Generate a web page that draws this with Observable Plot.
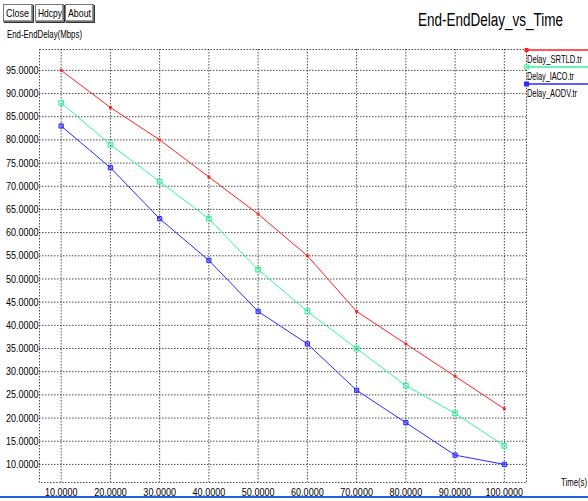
<!DOCTYPE html>
<html>
<head>
<meta charset="utf-8">
<script src="https://cdn.jsdelivr.net/npm/d3@7"></script>
<script src="https://cdn.jsdelivr.net/npm/@observablehq/plot@0.6"></script>
<style>
  html, body { margin:0; padding:0; background:#fff; width:588px; height:501px; overflow:hidden; }
  body { position:relative; font-family:"Liberation Sans",Arial,sans-serif; color:#000; }
  #chart { position:absolute; left:0; top:0; }
  .btn { position:absolute; top:4px; height:16px; border:1px solid #777; box-shadow: inset -1px -1px 0 #999, inset 1px 1px 0 #fff, 1px 1px 0 #333; background:#fff; overflow:hidden; }
  .btn span { position:absolute; left:2px; top:2px; font-size:11px; line-height:12px; white-space:nowrap; transform-origin:0 0; }
  .lbl { position:absolute; font-size:11px; line-height:12px; white-space:nowrap; transform-origin:0 0; }
  #title { position:absolute; left:418px; top:10px; font-size:18px; line-height:20px; white-space:nowrap; transform-origin:0 0; }
  #legsvg { position:absolute; left:520px; top:40px; width:68px; height:60px; overflow:visible; }
  #bottomline { position:absolute; left:0; top:496px; width:588px; height:2px; background:#1f62e6; }
</style>
</head>
<body>
<div id="chart"></div>
<div class="btn" style="left:3px;width:28px;"><span data-w="23">Close</span></div>
<div class="btn" style="left:35px;width:27px;"><span data-w="24">Hdcpy</span></div>
<div class="btn" style="left:65px;width:27px;"><span data-w="23">About</span></div>
<div class="lbl" data-w="75" style="left:7px;top:28px;">End-EndDelay(Mbps)</div>
<div id="title" data-w="145">End-EndDelay_vs_Time</div>
<div class="lbl" data-w="26" style="left:561px;top:476px;">Time(s)</div>
<div id="legend"></div>
<div id="bottomline"></div>
<script>
const times = [10, 20, 30, 40, 50, 60, 70, 80, 90, 100];
const srtld = [95, 87, 80, 72, 64, 55, 43, 36, 29, 22];
const iaco  = [88, 79, 71, 63, 52, 43, 35, 27, 21, 14];
const aodv  = [83, 74, 63, 54, 43, 36, 26, 19, 12, 10];
const seriesNames = ["Delay_SRTLD.tr", "Delay_IACO.tr", "Delay_AODV.tr"];
const seriesColors = ["#ff2020", "#33f59a", "#2a2aff"];
const xTicks = [10, 20, 30, 40, 50, 60, 70, 80, 90, 100];
const yTicks = [10, 15, 20, 25, 30, 35, 40, 45, 50, 55, 60, 65, 70, 75, 80, 85, 90, 95];

const allSeries = [srtld, iaco, aodv];
const rows = allSeries.flatMap((vals, i) => vals.map((v, j) => ({t: times[j], v, s: seriesNames[i]})));
const colorScale = {domain: seriesNames, range: seriesColors};
const fmt = d => d.toFixed(4);
const font = '"Liberation Sans",Arial,sans-serif';

const chart = Plot.plot({
  width: 588,
  height: 501,
  marginLeft: 39,
  marginTop: 49,
  marginRight: 62,
  marginBottom: 19,
  x: {domain: [5.6, 104.5]},
  y: {domain: [6.1, 99.5]},
  color: colorScale,
  style: {fontFamily: font, fontSize: "11px", background: "transparent", color: "#000", overflow: "visible"},
  marks: [
    Plot.gridX(xTicks, {stroke: "#000", strokeOpacity: 0.7, strokeDasharray: "1.5,1.5"}),
    Plot.gridY(yTicks, {stroke: "#000", strokeOpacity: 0.7, strokeDasharray: "1.5,1.5"}),
    Plot.frame({stroke: "#000", strokeOpacity: 0.7, strokeDasharray: "1.5,1.5"}),
    Plot.line(rows, {x: "t", y: "v", z: "s", stroke: "s", strokeWidth: 1}),
    Plot.dot(rows.filter(d => d.s === seriesNames[0]), {x: "t", y: "v", symbol: "square", r: 1.6, fill: seriesColors[0], stroke: "none"}),
    Plot.dot(rows.filter(d => d.s === seriesNames[1]), {x: "t", y: "v", symbol: "square", r: 2.6, fill: "none", stroke: seriesColors[1], strokeWidth: 1.2}),
    Plot.dot(rows.filter(d => d.s === seriesNames[2]), {x: "t", y: "v", symbol: "square", r: 2.4, fill: seriesColors[2], fillOpacity: 0.45, stroke: seriesColors[2], strokeWidth: 1}),
    Plot.axisX(xTicks, {tickFormat: fmt, tickSize: 0, tickPadding: 6, label: null, fontSize: 11}),
    Plot.axisY(yTicks, {tickFormat: fmt, tickSize: 0, tickPadding: 1, label: null, fontSize: 11})
  ]
});
document.getElementById("chart").appendChild(chart);

// condense tick label text to match narrow reference font
chart.querySelectorAll("g[aria-label='x-axis tick label'] text, g[aria-label='y-axis tick label'] text").forEach(t => {
  const tr = t.getAttribute("transform") || "";
  t.setAttribute("transform", tr + " scale(0.82,1)");
});

// legend: swatch lines in a small svg, labels as html text
const legend = document.getElementById("legend");
const legTops = [50, 67, 84];
const legW = [55, 47, 50];
const ns = "http://www.w3.org/2000/svg";
const lsvg = document.createElementNS(ns, "svg");
lsvg.setAttribute("id", "legsvg");
lsvg.setAttribute("width", "68");
lsvg.setAttribute("height", "60");
legend.appendChild(lsvg);
seriesNames.forEach((name, i) => {
  const yy = legTops[i] - 40;
  const ln = document.createElementNS(ns, "line");
  ln.setAttribute("x1", 6); ln.setAttribute("x2", 68);
  ln.setAttribute("y1", yy); ln.setAttribute("y2", yy);
  ln.setAttribute("stroke", seriesColors[i]);
  ln.setAttribute("stroke-width", 1.5);
  lsvg.appendChild(ln);
  const mk = document.createElementNS(ns, "rect");
  const s = i === 0 ? 3 : 4;
  mk.setAttribute("x", 6.5 - s / 2); mk.setAttribute("y", yy - s / 2);
  mk.setAttribute("width", s); mk.setAttribute("height", s);
  mk.setAttribute("fill", i === 1 ? "none" : seriesColors[i]);
  mk.setAttribute("stroke", seriesColors[i]);
  lsvg.appendChild(mk);
  const tx = document.createElement("div");
  tx.className = "lbl";
  tx.style.left = "527px";
  tx.style.top = (legTops[i] + 3) + "px";
  tx.dataset.w = legW[i];
  tx.textContent = name;
  legend.appendChild(tx);
});

// fit text widths to the narrow reference lettering
document.querySelectorAll("[data-w]").forEach(el => {
  const w = el.getBoundingClientRect().width;
  const target = +el.dataset.w;
  if (w > 0) el.style.transform = `scaleX(${target / w})`;
});
</script>
</body>
</html>
